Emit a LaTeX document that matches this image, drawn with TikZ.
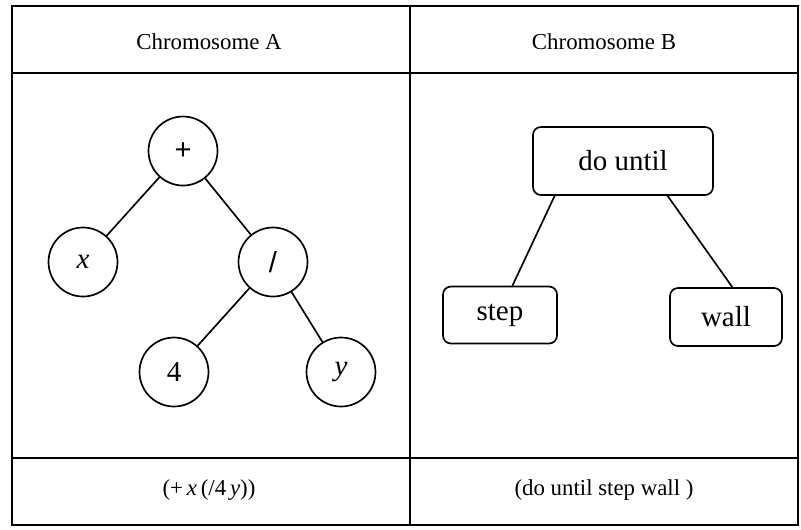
\documentclass[tikz,border=0pt]{standalone}
\usepackage{fontspec}
\setmainfont{Liberation Serif}
\newfontfamily\opfont{Liberation Sans}

\tikzset{
  tab/.style={line width=1.2pt},
  gene/.style={draw, circle, line width=0.95pt, minimum size=1.38cm, inner sep=0pt, font=\fontsize{16.5}{19}\selectfont},
  cmd/.style={draw, rounded corners=4.5pt, line width=0.95pt, inner sep=0pt, font=\fontsize{16.5}{19}\selectfont},
  link/.style={line width=0.95pt}
}

\begin{document}
\begin{tikzpicture}[x=0.02cm, y=-0.02cm]
        \useasboundingbox (0,0) rectangle (801,529);

        \coordinate (TL) at (12,6);
        \coordinate (BR) at (798,525);

        \draw[tab] (TL) rectangle (BR);
        \draw[tab] (12,73) -- (798,73);
        \draw[tab] (12,458) -- (798,458);
        \draw[tab] (410,6) -- (410,525);

        \node[font=\fontsize{13}{15}\selectfont] (hdrA) at (209,42) {Chromosome A};
        \node[font=\fontsize{13}{15}\selectfont] (hdrB) at (604,42) {Chromosome B};
        \node[font=\fontsize{13}{15}\selectfont] (exprA) at (209,490) {(+\,\textit{x}\,(/4\,\textit{y}))};
        \node[font=\fontsize{13}{15}\selectfont] (exprB) at (604,490) {(do until step wall )};

        % tree of chromosome A
        \node[gene] (plus) at (183,151) {\opfont +};
        \node[gene] (vx) at (83,262) {\textit{x}};
        \node[gene] (div) at (273,262) {\opfont /};
        \node[gene] (four) at (174,372) {4};
        \node[gene] (vy) at (341,372) {\textit{y}};

        \draw[link] (plus) -- (vx);
        \draw[link] (plus) -- (div);
        \draw[link] (div) -- (four);
        \draw[link] (div) -- (vy);

        % program of chromosome B
        \node[cmd, minimum width=3.6cm, minimum height=1.36cm] (du) at (623,161) {do until};
        \node[cmd, minimum width=2.28cm, minimum height=1.14cm] (st) at (500,315) {step};
        \node[cmd, minimum width=2.24cm, minimum height=1.16cm] (wl) at (726,317) {wall};

        \draw[link] (du.207) -- (st.67);
        \draw[link] (du.-38) -- (wl.78);

    \end{tikzpicture}
\end{document}
